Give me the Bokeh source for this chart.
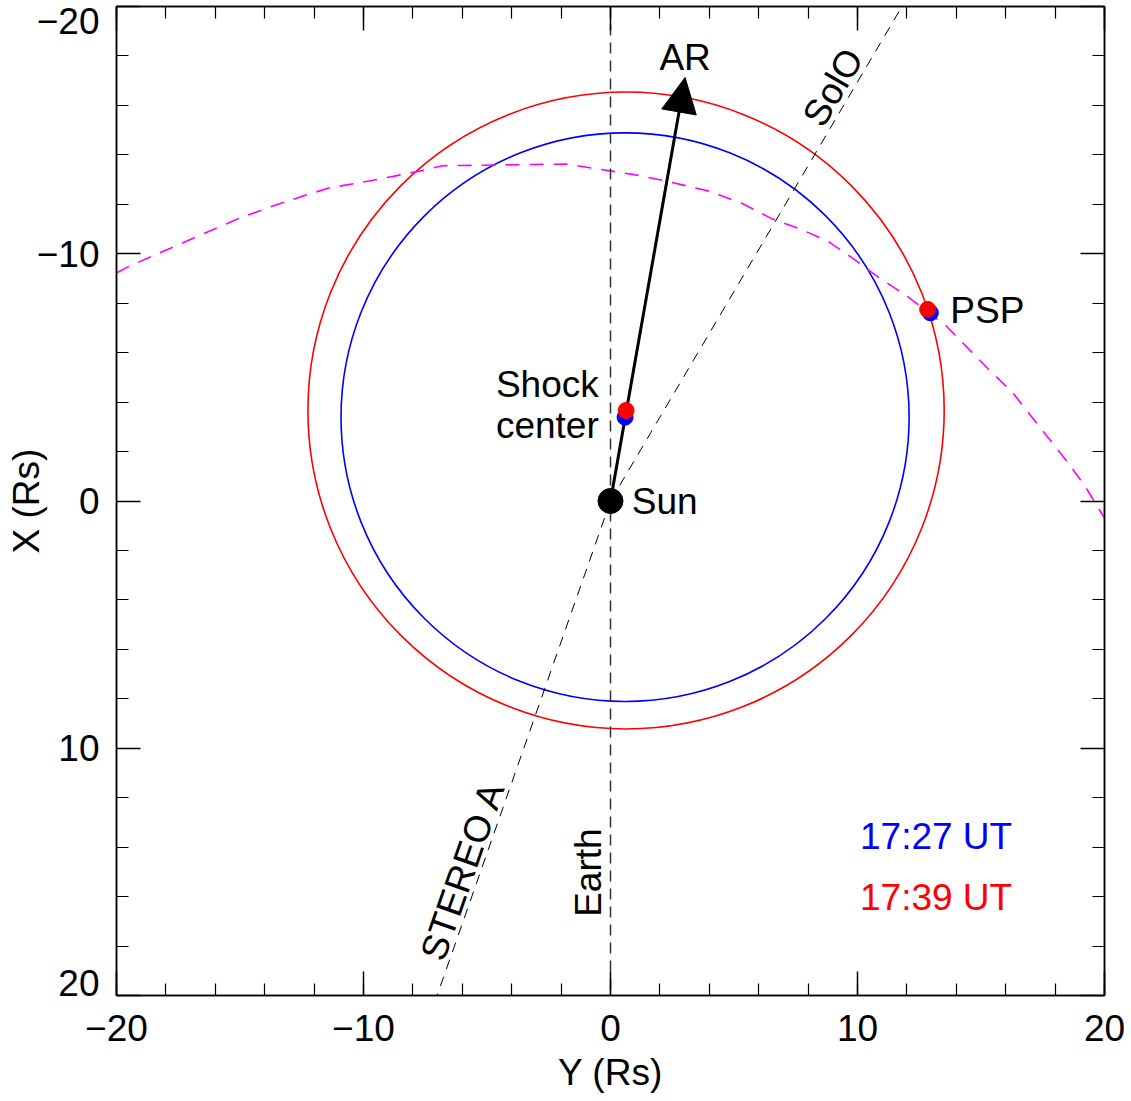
from bokeh.plotting import figure
from bokeh.models import Range1d, LinearAxis, FixedTicker, Arrow, NormalHead, CustomLabelingPolicy
from bokeh.core.properties import value
from bokeh.embed import file_html
from bokeh.resources import INLINE

# ---------------- data (horizontal = Y (Rs), vertical = X (Rs)) ----------------
major_ticks = [-20, -10, 0, 10, 20]
minor_ticks = list(range(-20, 21, 2))
tick_text = ["\u221220", "\u221210", "0", "10", "20"]

# magenta dashed curve
curve_Y = [-20.0, -19.5, -15.0, -13.7, -12.5, -11.4, -10.0, -8.8, -7.6, -6.8, -5.2,
           -1.8, -0.4, 0.9, 2.3, 4.0, 5.4, 6.5, 7.7, 8.8, 9.8, 10.9, 11.9, 13.6,
           15.38, 16.27, 17.0, 17.73, 18.5, 19.23, 20.0]
curve_X = [-9.22, -9.49, -11.45, -11.92, -12.32, -12.66, -12.90, -13.13, -13.37, -13.56,
           -13.58, -13.63, -13.41, -13.21, -12.93, -12.53, -12.00, -11.43, -10.99,
           -10.51, -9.82, -9.01, -8.36, -7.07, -5.25, -4.40, -3.47, -2.55, -1.58,
           -0.57, 0.69]

times = ["17:27 UT", "17:39 UT"]
time_colors = ["#0000ff", "#ff0000"]
shock_Y = [0.59, 0.63]
shock_X = [-3.39, -3.66]
shock_r = [11.5, 12.88]
psp_Y = [12.95, 12.84]
psp_X = [-7.61, -7.75]

sun_Y, sun_X = 0.0, 0.0
ar_Y, ar_X = 3.02, -17.13
solo_end = (11.8, -20.0)
stereo_end = (-7.02, 20.0)
earth_Y = [0.0, 0.0]
earth_X = [-20.0, 20.0]

FONT_NAME = "Liberation Sans"
FONT = value(FONT_NAME)
FS = "37px"
BASE_SHIFT = -0.5   # baseline correction for horizontal labels (data units)

p = figure(width=1131, height=1101, x_range=Range1d(-20, 20), y_range=Range1d(20, -20),
           x_axis_type=None, y_axis_type=None, output_backend="svg", toolbar_location=None,
           min_border_left=116, min_border_right=27, min_border_top=6, min_border_bottom=106)
p.outline_line_color = "black"
p.outline_line_width = 1.5
p.background_fill_color = "white"
p.border_fill_color = "white"

overrides = {t: s for t, s in zip(major_ticks, tick_text)}
no_labels = CustomLabelingPolicy(code="return new Set()")


def tick_axis(side, show_labels=False):
    ax = LinearAxis(ticker=FixedTicker(ticks=major_ticks, minor_ticks=minor_ticks))
    ax.major_tick_in = 24
    ax.major_tick_out = 0
    ax.minor_tick_in = 12
    ax.minor_tick_out = 0
    ax.axis_line_color = "black"
    ax.axis_line_width = 1.5
    ax.major_tick_line_width = 1.5
    ax.minor_tick_line_width = 1.2
    ax.major_tick_line_color = "black"
    ax.minor_tick_line_color = "black"
    if show_labels:
        ax.major_label_overrides = overrides
        ax.major_label_text_font = FONT_NAME
        ax.major_label_text_font_size = FS
        ax.major_label_text_color = "black"
        ax.major_label_standoff = 19
    else:
        ax.major_label_policy = no_labels
        ax.major_label_text_font_size = "1px"
        ax.major_label_standoff = 0
    p.add_layout(ax, side)
    return ax


tick_axis("left")
tick_axis("right")
tick_axis("above")
bottom = tick_axis("below", show_labels=True)
bottom.axis_label = "Y (Rs)"
bottom.axis_label_text_font = FONT_NAME
bottom.axis_label_text_font_size = FS
bottom.axis_label_text_font_style = "normal"
bottom.axis_label_text_color = "black"
bottom.axis_label_standoff = 8

# left labels (edge labels nudged inside the frame span, as in the original)
label_pos = [-19.4, -10, 0, 10, 19.5]
lab = LinearAxis(ticker=FixedTicker(ticks=label_pos, minor_ticks=[]))
lab.major_label_overrides = {t: s for t, s in zip(label_pos, tick_text)}
lab.major_tick_in = 0
lab.major_tick_out = 0
lab.minor_tick_in = 0
lab.minor_tick_out = 0
lab.axis_line_color = None
lab.major_label_text_font = FONT_NAME
lab.major_label_text_font_size = FS
lab.major_label_text_color = "black"
lab.major_label_standoff = 12
lab.axis_label = "X (Rs)"
lab.axis_label_text_font = FONT_NAME
lab.axis_label_text_font_size = FS
lab.axis_label_text_font_style = "normal"
lab.axis_label_text_color = "black"
lab.axis_label_standoff = -13
p.add_layout(lab, "left")

# shock circles
for i in range(2):
    p.ellipse(x=shock_Y[i], y=shock_X[i], width=2 * shock_r[i], height=2 * shock_r[i],
              fill_color=None, line_color=time_colors[i], line_width=1.6)

# magenta curve
p.line(curve_Y, curve_X, line_color="#ff00ff", line_width=1.6, line_dash="14 10")

# Earth / SolO / STEREO A lines
p.line(earth_Y, earth_X, line_color="#303030", line_width=1.5, line_dash="11 7")
p.line([sun_Y, solo_end[0]], [sun_X, solo_end[1]], line_color="black", line_width=1.0,
       line_dash="10 8")
p.line([sun_Y, stereo_end[0]], [sun_X, stereo_end[1]], line_color="black", line_width=1.0,
       line_dash="10 8")

# AR arrow
p.add_layout(Arrow(end=NormalHead(size=35, fill_color="black", line_color="black"),
                   x_start=sun_Y, y_start=sun_X, x_end=ar_Y, y_end=ar_X,
                   line_width=3, line_color="black"))

# dots
for i in range(2):
    r1 = p.scatter(x=[shock_Y[i]], y=[shock_X[i]], size=16, color=time_colors[i])
    r2 = p.scatter(x=[psp_Y[i]], y=[psp_X[i]], size=16, color=time_colors[i])
    r1.level = "overlay"
    r2.level = "overlay"
rs = p.scatter(x=[sun_Y], y=[sun_X], size=25, color="black")
rs.level = "overlay"


def txt(x, y, s, color="black", align="left", baseline="alphabetic", angle=0):
    if baseline == "alphabetic":
        y = y + BASE_SHIFT
    p.text(x=[x], y=[y], text=[s], text_font=FONT, text_font_size=FS, text_color=color,
           text_align=align, text_baseline=baseline, angle=angle, angle_units="deg")


txt(ar_Y, -17.45, "AR", align="center")
txt(13.76, -7.2, "PSP")
txt(-4.64, -4.2, "Shock")
txt(-4.64, -2.56, "center")
txt(0.86, 0.51, "Sun")
txt(10.1, 14.05, times[0], color=time_colors[0])
txt(10.1, 16.54, times[1], color=time_colors[1])
txt(9.01, -16.73, "SolO", align="center", baseline="middle", angle=59.5)
txt(-5.98, 14.95, "STEREO A", align="center", baseline="middle", angle=70.7)
txt(-0.91, 15.03, "Earth", align="center", baseline="middle", angle=90)

open("out.html", "w").write(file_html(p, INLINE))
